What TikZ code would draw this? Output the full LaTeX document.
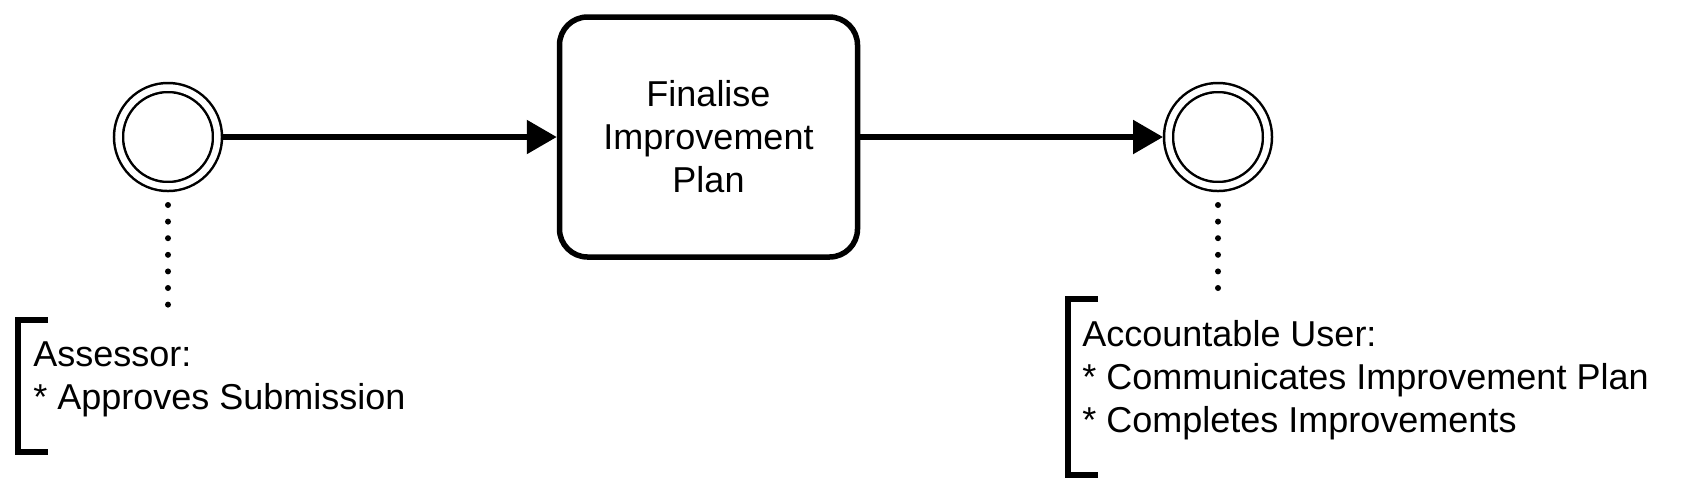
\documentclass[tikz,border=0pt]{standalone}
\usepackage{fontspec}
\setmainfont{Liberation Sans}
\usetikzlibrary{arrows.meta,positioning}
\begin{document}
\begin{tikzpicture}[x=0.5pt,y=-0.5pt,
		font=\fontsize{18pt}{21.5pt}\selectfont,
		event/.style={circle,draw,line width=1.25pt,double,double distance=3.25pt,minimum size=49.5pt,inner sep=0pt,outer sep=2.75pt},
		task/.style={draw,line width=2.75pt,rounded corners=14pt,minimum width=149pt,minimum height=120pt,align=center,inner sep=0pt},
		flow/.style={line width=2.75pt,-{Triangle[length=15pt,width=16.5pt]}},
		notebox/.style={anchor=north west,inner sep=0pt,outer sep=0pt},
		notetext/.style={align=left,inner sep=0pt},
		bracket/.style={line width=3pt,line join=miter},
		assoc/.style={line width=3pt,line cap=round,dash pattern=on 0pt off 8.3pt,shorten <=6.5pt,shorten >=5pt}]
	\useasboundingbox (0,0) rectangle (1686,495);
	\node[event] (start) at (168,137) {};
	\node[task] (finalise) at (708.5,137) {Finalise\\Improvement\\Plan};
	\node[event] (end) at (1218,137) {};
	\draw[flow] (start) -- (finalise);
	\draw[flow] (finalise) -- (end);
	\node[notebox,minimum width=200pt,minimum height=66pt] (assrnote) at (18,320) {};
	\node[notetext,below right=10.5pt and 7.5pt of assrnote.north west] (assrtext) {Assessor:\\* Approves Submission};
	\draw[bracket] ([xshift=15pt]assrnote.north west) -- (assrnote.north west) -- (assrnote.south west) -- ([xshift=15pt]assrnote.south west);
	\node[notebox,minimum width=290pt,minimum height=88pt] (acctnote) at (1068,299) {};
	\node[notetext,below right=10.5pt and 7pt of acctnote.north west] (accttext) {Accountable User:\\* Communicates Improvement Plan\\* Completes Improvements};
	\draw[bracket] ([xshift=15pt]acctnote.north west) -- (acctnote.north west) -- (acctnote.south west) -- ([xshift=15pt]acctnote.south west);
	\draw[assoc] (start) -- (start |- assrnote.north);
	\draw[assoc] (end) -- (end |- acctnote.north);
\end{tikzpicture}
\end{document}
